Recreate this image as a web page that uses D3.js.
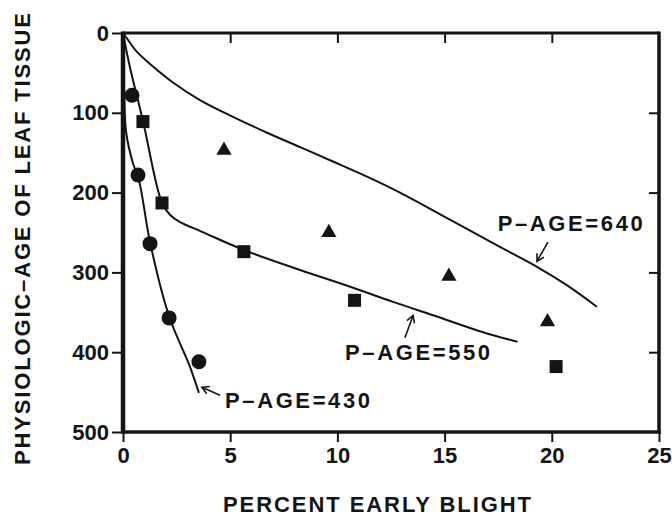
<!DOCTYPE html>
<html lang="en">
<head>
  <meta charset="UTF-8" />
  <title>Physiologic age vs early blight</title>
  <script src="https://d3js.org/d3.v7.min.js"></script>
  <style>
    body {
      margin: 0;
      background: #fff;
    }
    svg {
      display: block;
      font-family: 'Liberation Sans', Arial, sans-serif;
      font-weight: bold;
    }
  </style>
</head>
<body>
  <svg width="672" height="516"></svg>
  <script>
    // tick values
    const xTicks = [0, 5, 10, 15, 20, 25];
    const yTicks = [0, 100, 200, 300, 400, 500];

    // observed points (percent early blight, physiologic age)
    const circles430 = [[0.42, 78], [0.70, 178], [1.26, 264], [2.15, 357], [3.54, 412]];
    const squares550 = [[0.93, 111], [1.82, 213], [5.64, 274], [10.8, 335], [20.2, 418]];
    const triangles640 = [[4.71, 147], [9.6, 250], [15.2, 305], [19.8, 362]];

    // fitted curves
    const curve430 = [[0, 0], [0.05, 70], [0.15, 125], [0.45, 162], [0.75, 185], [1.26, 262],
                      [2.15, 355], [3.12, 418], [3.54, 451]];
    const curve550 = [[0, 0], [0.3, 40], [0.93, 110], [1.82, 213], [2.2, 228], [2.66, 237],
                      [3.59, 248], [5.64, 272], [8.26, 297], [10.6, 318], [12.6, 337],
                      [14.5, 354], [16.8, 375], [18.4, 387]];
    const curve640 = [[0, 0], [0.14, 5], [0.6, 22], [1.4, 42], [2.33, 62], [3.59, 84],
                      [5.13, 105], [6.72, 125], [8.26, 143], [9.79, 161], [11.38, 180],
                      [12.92, 200], [15.25, 234], [17.58, 268], [19.31, 293], [20.7, 316],
                      [22.1, 343]];

    // curve labels: text, label centre, arrow from -> to
    const labels = [
      {text: "P\u2013AGE=640", at: [20.86, 239], from: [19.82, 262], to: [19.31, 286]},
      {text: "P\u2013AGE=550", at: [13.74, 400], from: [13.15, 382], to: [13.53, 354]},
      {text: "P\u2013AGE=430", at: [8.14, 461], from: [4.52, 454], to: [3.68, 444]}
    ];

    const svg = d3.select("svg");
    const x = d3.scaleLinear().domain([0, 25]).range([123, 659]);
    const y = d3.scaleLinear().domain([0, 500]).range([33, 432]);
    const ink = "#141414";

    // axes
    const gLeft = svg.append("g").attr("transform", `translate(${x(0)},0)`)
      .call(d3.axisLeft(y).tickValues(yTicks).tickSize(11).tickSizeOuter(0).tickPadding(3));
    const gBottom = svg.append("g").attr("transform", `translate(0,${y(500)})`)
      .call(d3.axisBottom(x).tickValues(xTicks).tickSize(10).tickSizeOuter(0).tickPadding(5));
    const gTop = svg.append("g").attr("transform", `translate(0,${y(0)})`)
      .call(d3.axisBottom(x).tickValues(xTicks.slice(1, -1)).tickSize(10).tickSizeOuter(0).tickFormat(""));
    const gRight = svg.append("g").attr("transform", `translate(${x(25)},0)`)
      .call(d3.axisLeft(y).tickValues(yTicks.slice(1, -1)).tickSize(10).tickSizeOuter(0).tickFormat(""));

    [gLeft, gBottom, gTop, gRight].forEach(g => {
      g.select(".domain").remove();
      g.selectAll(".tick line").attr("stroke", ink).attr("stroke-width", 2);
      g.selectAll("text").attr("fill", ink).style("font-size", "22px").attr("font-family", null);
    });

    // frame
    svg.append("line").attr("x1", x(0)).attr("x2", x(25)).attr("y1", y(0)).attr("y2", y(0))
      .attr("stroke", ink).attr("stroke-width", 3);
    svg.append("line").attr("x1", x(25)).attr("x2", x(25)).attr("y1", y(0) - 1.5).attr("y2", y(500) + 1.5)
      .attr("stroke", ink).attr("stroke-width", 3.5);
    svg.append("line").attr("x1", x(0)).attr("x2", x(25) + 1.5).attr("y1", y(500)).attr("y2", y(500))
      .attr("stroke", ink).attr("stroke-width", 3.5);
    svg.append("line").attr("x1", x(0)).attr("x2", x(0)).attr("y1", y(0) - 1.5).attr("y2", y(500) + 1.5)
      .attr("stroke", ink).attr("stroke-width", 4.5);

    // curves
    const line = d3.line().x(d => x(d[0])).y(d => y(d[1])).curve(d3.curveCatmullRom.alpha(0.5));
    [curve430, curve550, curve640].forEach(c => {
      svg.append("path").datum(c).attr("d", line)
        .attr("fill", "none").attr("stroke", ink).attr("stroke-width", 2);
    });

    // markers
    svg.selectAll("circle.p430").data(circles430).enter().append("circle")
      .attr("cx", d => x(d[0])).attr("cy", d => y(d[1])).attr("r", 7.5).attr("fill", ink);
    svg.selectAll("rect.p550").data(squares550).enter().append("rect")
      .attr("x", d => x(d[0]) - 6.5).attr("y", d => y(d[1]) - 6.5)
      .attr("width", 13).attr("height", 13).attr("fill", ink);
    svg.selectAll("path.p640").data(triangles640).enter().append("path")
      .attr("d", d3.symbol(d3.symbolTriangle, 100))
      .attr("transform", d => `translate(${x(d[0])},${y(d[1])})`)
      .attr("fill", ink);

    // annotations
    svg.append("defs").append("marker")
      .attr("id", "head").attr("viewBox", "-8 -5 10 10")
      .attr("markerWidth", 10).attr("markerHeight", 10).attr("orient", "auto")
      .attr("markerUnits", "userSpaceOnUse")
      .append("path").attr("d", "M-7,-4L0,0L-7,4").attr("fill", "none")
      .attr("stroke", ink).attr("stroke-width", 1.6);

    labels.forEach(l => {
      svg.append("line")
        .attr("x1", x(l.from[0])).attr("y1", y(l.from[1]))
        .attr("x2", x(l.to[0])).attr("y2", y(l.to[1]))
        .attr("stroke", ink).attr("stroke-width", 1.6).attr("marker-end", "url(#head)");
      svg.append("text")
        .attr("x", x(l.at[0])).attr("y", y(l.at[1]))
        .attr("text-anchor", "middle").attr("dominant-baseline", "central")
        .attr("textLength", 145).attr("lengthAdjust", "spacing")
        .attr("fill", ink).style("font-size", "22px")
        .text(l.text);
    });

    // axis titles
    svg.append("text")
      .attr("x", 377).attr("y", 504)
      .attr("text-anchor", "middle").attr("dominant-baseline", "central")
      .attr("textLength", 308).attr("lengthAdjust", "spacing")
      .attr("fill", ink).style("font-size", "22px")
      .text("PERCENT EARLY BLIGHT");

    svg.append("text")
      .attr("transform", "translate(22,239) rotate(-90)")
      .attr("text-anchor", "middle").attr("dominant-baseline", "central")
      .attr("textLength", 452).attr("lengthAdjust", "spacing")
      .attr("fill", ink).style("font-size", "22px")
      .text("PHYSIOLOGIC\u2013AGE OF LEAF TISSUE");
  </script>
</body>
</html>
